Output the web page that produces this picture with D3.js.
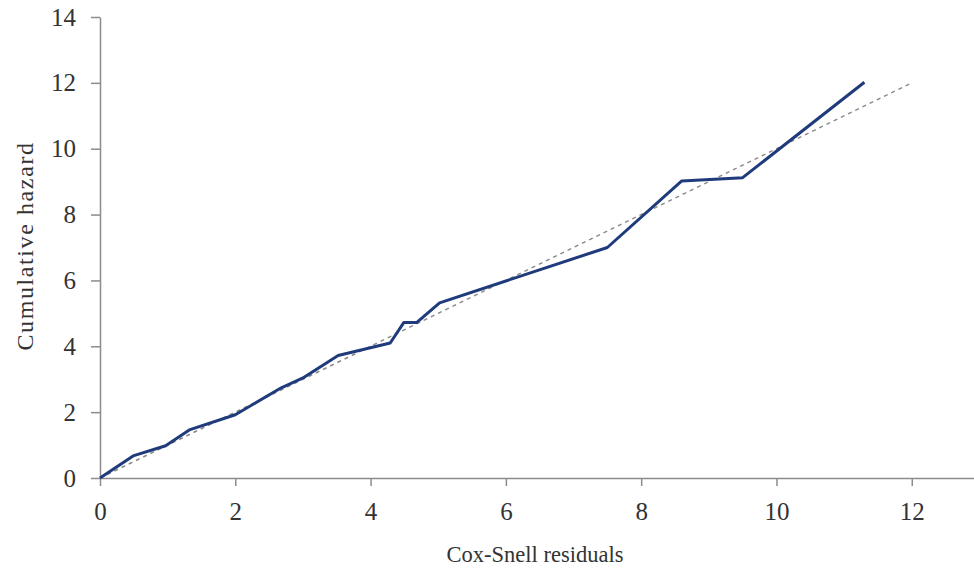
<!DOCTYPE html>
<html>
<head>
<meta charset="utf-8">
<script src="https://cdn.jsdelivr.net/npm/d3@7"></script>
<style>
  html, body { margin: 0; padding: 0; background: #fff; }
  svg { display: block; }
  .tick text { font-family: "Liberation Serif", "DejaVu Serif", serif; font-size: 25px; fill: #333; }
  .axis-title { font-family: "Liberation Serif", "DejaVu Serif", serif; fill: #333; }
</style>
</head>
<body>
<svg id="chart" width="974" height="575"></svg>
<script>
// Cox-Snell residuals vs. Nelson-Aalen cumulative hazard
const residuals = [0, 0.5, 0.97, 1.32, 2.0, 2.68, 3.0, 3.52, 4.29, 4.49, 4.68, 5.02, 7.5, 8.6, 9.5, 11.3];
const cumHazard = [0, 0.68, 0.98, 1.46, 1.92, 2.74, 3.04, 3.72, 4.1, 4.72, 4.72, 5.32, 7.0, 9.02, 9.12, 12.02];
// 45-degree reference line
const refX = [0, 12];
const refY = [0, 12];
const xTicks = [0, 2, 4, 6, 8, 10, 12];
const yTicks = [0, 2, 4, 6, 8, 10, 12, 14];

const svg = d3.select("#chart");
const x = d3.scaleLinear().domain([0, 12.92]).range([100, 974]);
const y = d3.scaleLinear().domain([0, 14]).range([478, 17]);

const axisColor = "#8c8c8c";

const gx = svg.append("g").attr("transform", `translate(0,${y(0)})`)
  .call(d3.axisBottom(x).tickValues(xTicks).tickSize(8).tickPadding(16).tickSizeOuter(0));
const gy = svg.append("g").attr("transform", `translate(${x(0)},0)`)
  .call(d3.axisLeft(y).tickValues(yTicks).tickSize(9).tickPadding(15).tickSizeOuter(0));
[gx, gy].forEach(g => {
  g.selectAll("path, line").attr("stroke", axisColor).attr("stroke-width", 1.5);
});

// dashed reference line
const refLine = d3.line().x(d => x(d[0])).y(d => y(d[1]));
svg.append("path")
  .datum(refX.map((v, i) => [v, refY[i]]))
  .attr("d", refLine)
  .attr("fill", "none")
  .attr("stroke", "#8a8a8a")
  .attr("stroke-width", 1.5)
  .attr("stroke-dasharray", "4,4");

// cumulative hazard estimate
svg.append("path")
  .datum(residuals.map((v, i) => [v, cumHazard[i]]))
  .attr("d", refLine)
  .attr("fill", "none")
  .attr("stroke", "#1f3b7c")
  .attr("stroke-width", 3)
  .attr("stroke-linejoin", "round");

svg.append("text").attr("class", "axis-title")
  .attr("x", 535).attr("y", 562).attr("text-anchor", "middle")
  .style("font-size", "22.5px")
  .text("Cox-Snell residuals");
svg.append("text").attr("class", "axis-title")
  .attr("transform", "translate(33,246) rotate(-90)")
  .attr("text-anchor", "middle")
  .style("font-size", "24px")
  .style("letter-spacing", "1.6px")
  .text("Cumulative hazard");
</script>
</body>
</html>
